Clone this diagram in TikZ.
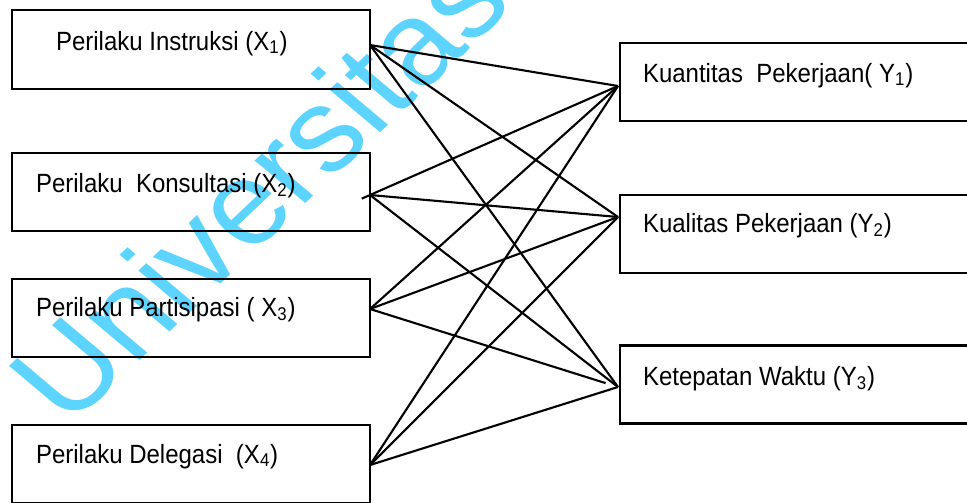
\documentclass[tikz,border=0pt]{standalone}
\usepackage{fontspec}
\setmainfont{Liberation Sans}[FakeStretch=0.91]
\newfontfamily\wmfont{Liberation Sans}
\usepackage{tikz}
\pgfdeclarelayer{bg}
\pgfsetlayers{bg,main}
\definecolor{wmblue}{RGB}{92,212,255}
\tikzset{
    every node/.style={inner sep=0mm},
    box/.style={rectangle, draw, line width=1.3pt, minimum width=7.16cm, minimum height=1.56cm},
    lbl/.style={anchor=base west, font=\fontsize{15}{18}\selectfont}
}
\tikzset{every path/.style={line width=1.2pt}}

\begin{document}
\begin{tikzpicture}
    \useasboundingbox (0.0cm, 0.0cm) rectangle (19.34cm, -10.04cm);

    \begin{pgfonlayer}{bg}
        \node (wm) [anchor=base west, xscale=1.12, rotate=46.7, text=wmblue, font=\wmfont\fontsize{67}{67}\selectfont] at (1.35cm, -8.59cm) {Universitas};
    \end{pgfonlayer}

    \node (x1) [box, minimum height=1.58cm] at (3.82cm, -0.99cm) {};
    \node (x2) [box] at (3.82cm, -3.84cm) {};
    \node (x3) [box] at (3.82cm, -6.36cm) {};
    \node (x4) [box] at (3.82cm, -9.28cm) {};
    \node (y1) [box, minimum width=7.04cm] at (15.92cm, -1.64cm) {};
    \node (y2) [box, minimum width=7.04cm] at (15.92cm, -4.68cm) {};
    \node (y3) [box, minimum width=7.04cm] at (15.92cm, -7.69cm) {};

    \node (x1t) [lbl] at (1.10cm, -1.00cm) {Perilaku Instruksi (X\textsubscript{1})};
    \node (x2t) [lbl] at (0.70cm, -3.84cm) {Perilaku\ \ Konsultasi (X\textsubscript{2})};
    \node (x3t) [lbl] at (0.70cm, -6.33cm) {Perilaku Partisipasi ( X\textsubscript{3})};
    \node (x4t) [lbl] at (0.70cm, -9.26cm) {Perilaku Delegasi\ \ (X\textsubscript{4})};
    \node (y1t) [lbl] at (12.84cm, -1.64cm) {Kuantitas\ \ Pekerjaan( Y\textsubscript{1})};
    \node (y2t) [lbl] at (12.84cm, -4.64cm) {Kualitas Pekerjaan (Y\textsubscript{2})};
    \node (y3t) [lbl] at (12.84cm, -7.70cm) {Ketepatan Waktu (Y\textsubscript{3})};

    \coordinate (x1o) at (7.40cm, -0.90cm);
    \coordinate (x2o) at (7.40cm, -3.90cm);
    \coordinate (x3o) at (7.40cm, -6.18cm);
    \coordinate (x4o) at (7.40cm, -9.30cm);
    \coordinate (y1i) at (12.36cm, -1.72cm);
    \coordinate (y2i) at (12.36cm, -4.34cm);
    \coordinate (y3i) at (12.36cm, -7.74cm);

    \draw (x1o) -- (y1i);
    \draw (x1o) -- (y2i);
    \draw (x1o) -- (y3i);

    \draw[shorten <=-0.18cm] (x2o) -- (y1i);
    \draw (x2o) -- (y2i);
    \draw (x2o) -- (y3i);

    \draw (x3o) -- (y1i);
    \draw (x3o) -- (y2i);
    \draw[shorten >=0.26cm] (x3o) -- (y3i);

    \draw (x4o) -- (y1i);
    \draw (x4o) -- (y2i);
    \draw (x4o) -- (y3i);
\end{tikzpicture}
\end{document}
